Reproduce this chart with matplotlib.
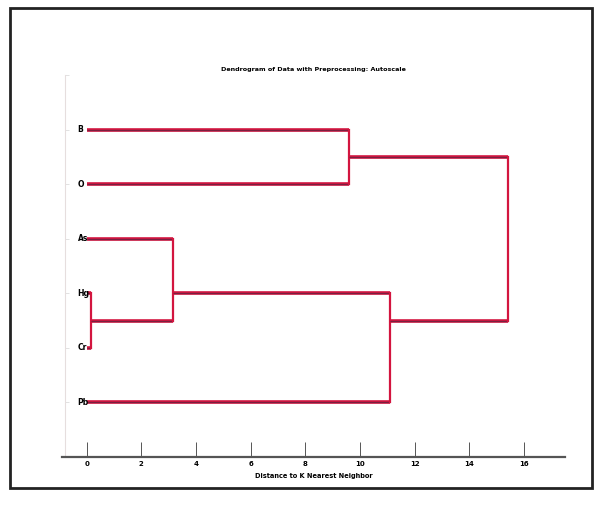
import matplotlib
matplotlib.use("Agg")
import matplotlib.pyplot as plt
import matplotlib.patheffects as pe
from matplotlib.patches import Rectangle

# Données
feuilles = ["B", "O", "As", "Hg", "Cr", "Pb"]
pos_feuilles = [6, 5, 4, 3, 2, 1]

# Fusions : (enfant gauche, enfant droit, distance, ordonnée de sortie)
fusions = [
    ("B", "O", 9.6, 5.5),
    ("Hg", "Cr", 0.15, 2.5),
    ("As", "n2", 3.15, 3.0),
    ("n3", "Pb", 11.1, 2.5),
    ("n1", "n4", 15.4, 4.0),
]

xticks = [0, 2, 4, 6, 8, 10, 12, 14, 16]
titre = "Dendrogram of Data with Preprocessing: Autoscale"
xlabel = "Distance to K Nearest Neighbor"

rouge = "#d3153f"
police = ["Liberation Sans Narrow", "DejaVu Sans"]

fig = plt.figure(figsize=(6.02, 5.19), dpi=100)
ax = fig.add_axes([0.103, 0.1195, 0.8355, 0.736])

# Cadre extérieur autour de la figure
fig.patches.append(Rectangle((10 / 602, 1 - 488 / 519), 582 / 602, 480 / 519,
                             transform=fig.transFigure, fill=False,
                             edgecolor="#222222", linewidth=2))

# Position (x, y) de chaque noeud
noeuds = {nom: (0.0, y) for nom, y in zip(feuilles, pos_feuilles)}

effet = [pe.Stroke(linewidth=2.6, foreground=rouge), pe.Normal()]
for i, (a, b, d, y_out) in enumerate(fusions, start=1):
    for enfant in (a, b):
        x0, y0 = noeuds[enfant]
        ax.plot([x0, d], [y0, y0], color="#7a2040", linewidth=0.9,
                path_effects=effet, solid_capstyle="butt")
    ya, yb = noeuds[a][1], noeuds[b][1]
    ax.plot([d, d], [ya, yb], color=rouge, linewidth=1.6)
    noeuds["n%d" % i] = (d, y_out)

# Étiquettes des feuilles
for nom, y in zip(feuilles, pos_feuilles):
    ax.text(-0.33, y, nom, ha="left", va="center", fontsize=5.5,
            fontweight="bold", family=police, color="black")

ax.set_xlim(-0.9, 17.5)
ax.set_ylim(0, 7)

ax.set_xticks(xticks)
ax.set_xticklabels([str(t) for t in xticks], fontsize=5, fontweight="bold",
                   family=police)
ax.tick_params(axis="x", direction="in", length=11, width=0.7,
               color="#555555", pad=3)
ax.set_yticks(range(0, 8))
ax.set_yticklabels([""] * 8)
ax.tick_params(axis="y", direction="in", length=3, width=0.6, color="#dddddd")

for cote in ("top", "right"):
    ax.spines[cote].set_visible(False)
ax.spines["bottom"].set_color("#555555")
ax.spines["bottom"].set_linewidth(1.6)
ax.spines["left"].set_color("#e6dede")
ax.spines["left"].set_linewidth(0.8)
ax.spines["left"].set_position(("data", -0.78))

ax.set_title(titre, fontsize=4.6, fontweight="bold", family=police, pad=3)
ax.set_xlabel(xlabel, fontsize=4.8, fontweight="bold", family=police, labelpad=4)

fig.savefig("out.png", dpi=100)
